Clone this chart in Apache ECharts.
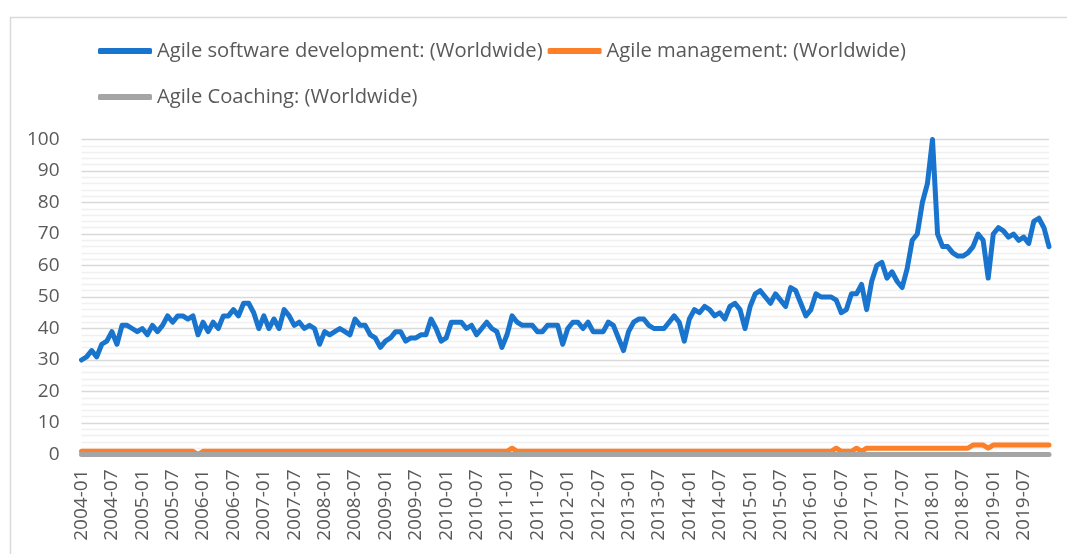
<!DOCTYPE html>
<html>
<head>
<meta charset="utf-8">
<script src="https://cdn.jsdelivr.net/npm/echarts@6/dist/echarts.min.js"></script>
<style>
html,body{margin:0;padding:0;background:#fff;}
#chart{width:1067px;height:554px;}
</style>
</head>
<body>
<div id="chart"></div>
<script>
// Categories: monthly 2004-01 .. 2019-12
const years = [2004,2005,2006,2007,2008,2009,2010,2011,2012,2013,2014,2015,2016,2017,2018,2019];
const months = ['01','02','03','04','05','06','07','08','09','10','11','12'];
const categories = [];
years.forEach(y => months.forEach(m => categories.push(y + '-' + m)));

const seriesNames = [
  'Agile software development: (Worldwide)',
  'Agile management: (Worldwide)',
  'Agile Coaching: (Worldwide)'
];

const agileSoftware = [
  30,31,33,31,35,36,39,35,41,41,40,39,
  40,38,41,39,41,44,42,44,44,43,44,38,
  42,39,42,40,44,44,46,44,48,48,45,40,
  44,40,43,40,46,44,41,42,40,41,40,35,
  39,38,39,40,39,38,43,41,41,38,37,34,
  36,37,39,39,36,37,37,38,38,43,40,36,
  37,42,42,42,40,41,38,40,42,40,39,34,
  38,44,42,41,41,41,39,39,41,41,41,35,
  40,42,42,40,42,39,39,39,42,41,37,33,
  39,42,43,43,41,40,40,40,42,44,42,36,
  43,46,45,47,46,44,45,43,47,48,46,40,
  47,51,52,50,48,51,49,47,53,52,48,44,
  46,51,50,50,50,49,45,46,51,51,54,46,
  55,60,61,56,58,55,53,59,68,70,80,86,
  100,70,66,66,64,63,63,64,66,70,68,56,
  70,72,71,69,70,68,69,67,74,75,72,66
];

const agileManagement = [
  1,1,1,1,1,1,1,1,1,1,1,1,
  1,1,1,1,1,1,1,1,1,1,1,0,
  1,1,1,1,1,1,1,1,1,1,1,1,
  1,1,1,1,1,1,1,1,1,1,1,1,
  1,1,1,1,1,1,1,1,1,1,1,1,
  1,1,1,1,1,1,1,1,1,1,1,1,
  1,1,1,1,1,1,1,1,1,1,1,1,
  1,2,1,1,1,1,1,1,1,1,1,1,
  1,1,1,1,1,1,1,1,1,1,1,1,
  1,1,1,1,1,1,1,1,1,1,1,1,
  1,1,1,1,1,1,1,1,1,1,1,1,
  1,1,1,1,1,1,1,1,1,1,1,1,
  1,1,1,1,1,2,1,1,1,2,1,2,
  2,2,2,2,2,2,2,2,2,2,2,2,
  2,2,2,2,2,2,2,2,3,3,3,2,
  3,3,3,3,3,3,3,3,3,3,3,3
];

const agileCoaching = [
  0,0,0,0,0,0,0,0,0,0,0,0,
  0,0,0,0,0,0,0,0,0,0,0,0,
  0,0,0,0,0,0,0,0,0,0,0,0,
  0,0,0,0,0,0,0,0,0,0,0,0,
  0,0,0,0,0,0,0,0,0,0,0,0,
  0,0,0,0,0,0,0,0,0,0,0,0,
  0,0,0,0,0,0,0,0,0,0,0,0,
  0,0,0,0,0,0,0,0,0,0,0,0,
  0,0,0,0,0,0,0,0,0,0,0,0,
  0,0,0,0,0,0,0,0,0,0,0,0,
  0,0,0,0,0,0,0,0,0,0,0,0,
  0,0,0,0,0,0,0,0,0,0,0,0,
  0,0,0,0,0,0,0,0,0,0,0,0,
  0,0,0,0,0,0,0,0,0,0,0,0,
  0,0,0,0,0,0,0,0,0,0,0,0,
  0,0,0,0,0,0,0,0,0,0,0,0
];

const colors = ['#1874cd', '#fd7f28', '#a5a5a5'];
const FONT = 'Open Sans';
const TXT = '#595959';

const chart = echarts.init(document.getElementById('chart'), null, {renderer: 'canvas'});
const legendCommon = {
  orient: 'horizontal',
  icon: 'roundRect',
  itemWidth: 54,
  itemHeight: 6,
  itemGap: 5,
  textStyle: {fontFamily: FONT, fontSize: 20.2, color: TXT, lineHeight: 24},
  selectedMode: false
};
chart.setOption({
  animation: false,
  color: colors,
  graphic: [{
    type: 'rect', left: 8, top: 15, silent: true,
    shape: {width: 1080, height: 600},
    style: {fill: 'none', stroke: '#d9d9d9', lineWidth: 1.5}
  }],
  legend: [
    Object.assign({}, legendCommon, {left: 93, top: 34, data: [seriesNames[0], seriesNames[1]]}),
    Object.assign({}, legendCommon, {left: 93, top: 80, data: [seriesNames[2]]})
  ],
  grid: {left: 81.5, right: 18, top: 139.5, bottom: 99.5},
  xAxis: {
    type: 'category',
    data: categories,
    boundaryGap: false,
    axisLine: {show: true, lineStyle: {color: '#d9d9d9'}},
    axisTick: {show: false},
    axisLabel: {
      interval: 5, rotate: 90, margin: 15,
      fontFamily: FONT, fontSize: 19, color: TXT
    },
    splitLine: {show: false}
  },
  yAxis: {
    type: 'value',
    min: 0, max: 100, interval: 10,
    axisLine: {show: false},
    axisTick: {show: false},
    axisLabel: {fontFamily: FONT, fontSize: 19, color: TXT, margin: 22},
    splitLine: {show: true, lineStyle: {color: '#d9d9d9', width: 1.3}},
    minorTick: {show: false, splitNumber: 5},
    minorSplitLine: {show: true, lineStyle: {color: '#f0f0f0', width: 1.3}}
  },
  series: [
    {name: seriesNames[0], type: 'line', data: agileSoftware, showSymbol: false, symbol: 'none',
     lineStyle: {width: 5, color: colors[0], cap: 'round', join: 'round'}, itemStyle: {color: colors[0]}, z: 2},
    {name: seriesNames[1], type: 'line', data: agileManagement, showSymbol: false, symbol: 'none',
     lineStyle: {width: 5, color: colors[1], cap: 'round', join: 'round'}, itemStyle: {color: colors[1]}, z: 3},
    {name: seriesNames[2], type: 'line', data: agileCoaching, showSymbol: false, symbol: 'none',
     lineStyle: {width: 5, color: colors[2], cap: 'round', join: 'round'}, itemStyle: {color: colors[2]}, z: 4}
  ]
});
</script>
</body>
</html>
